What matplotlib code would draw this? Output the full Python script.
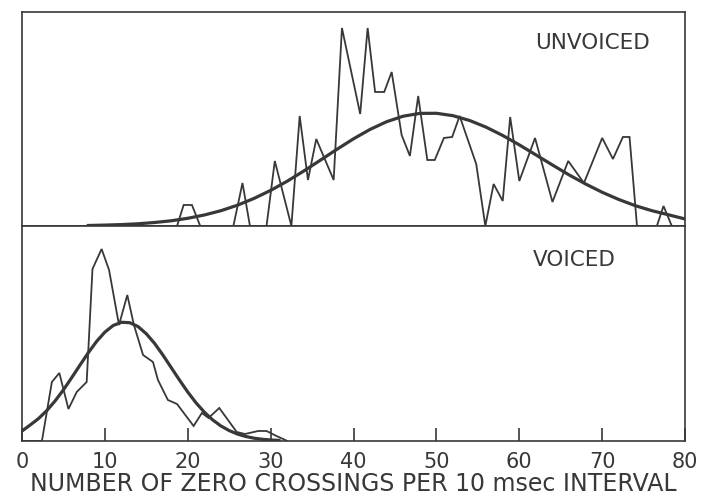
import matplotlib
matplotlib.use("Agg")
import matplotlib.pyplot as plt

# zero crossing histograms, heights in arbitrary units (panel height ~214)
unv_x = [0, 18.7, 19.5, 20.5, 21.5, 25.5, 26.6, 27.5, 29.5, 30.5, 32.5, 33.5, 34.5,
         35.5, 37.6, 38.6, 40.8, 41.7, 42.6, 43.7, 44.6, 45.8, 46.8, 47.8, 48.9,
         49.8, 50.9, 51.9, 52.8, 54.8, 55.9, 56.9, 58.0, 58.9, 60.0, 61.9, 64.0,
         65.9, 67.8, 70.0, 71.3, 72.5, 73.3, 74.2, 76.6, 77.4, 78.4, 80]
unv_y = [0, 0, 21, 21, 0, 0, 43, 0, 0, 65, 0, 110, 46,
         87, 46, 198, 112, 198, 134, 134, 154, 91, 70, 130, 66,
         66, 88, 89, 110, 62, 0, 42, 25, 109, 45, 88, 24,
         65, 43, 88, 67, 89, 89, 0, 0, 20, 0, 0]

unv_fit_x = [8, 10, 12, 14, 16, 18, 20, 22, 24, 26, 28, 30, 32, 34, 36, 38, 40, 42,
             44, 46, 48, 50, 52, 54, 56, 58, 60, 62, 64, 66, 68, 70, 72, 74, 76, 78, 80]
unv_fit_y = [0.5, 0.9, 1.4, 2.2, 3.5, 5.2, 7.7, 11.0, 15.3, 20.8, 27.6, 35.6, 44.8,
             55.0, 65.8, 76.7, 87.2, 96.6, 104.3, 109.8, 112.6, 112.7, 110.3, 105.5,
             98.8, 90.5, 81.1, 71.1, 61.0, 51.1, 42.0, 33.7, 26.5, 20.3, 15.3, 11.2, 7.0]

voi_x = [0, 2.4, 3.6, 4.5, 5.6, 6.6, 7.8, 8.5, 9.6, 10.5, 11.7, 12.7, 13.5, 14.6,
         15.8, 16.4, 17.6, 18.7, 20.7, 21.7, 22.5, 23.8, 25.9, 26.9, 28.5, 29.5,
         30.7, 31.5, 32.0]
voi_y = [0, 0, 59, 68, 32, 49, 59, 172, 192, 171, 116, 146, 116, 86,
         79, 61, 41, 37, 15, 28, 23, 33, 9, 7, 10, 10,
         5, 2, 0]

voi_fit_x = list(range(0, 32))
voi_fit_y = [10.0, 16.1, 22.5, 30.5, 40.2, 51.2, 63.4, 76.0, 88.3, 99.6, 108.9, 115.5,
             118.7, 118.3, 114.4, 107.2, 97.5, 85.9, 73.4, 60.9, 48.9, 38.1, 28.8,
             21.1, 15.0, 10.4, 6.9, 4.5, 2.8, 1.7, 1.0, 0.6]

ticks = [0, 10, 20, 30, 40, 50, 60, 70, 80]

ink = "#383838"
plt.rcParams["font.family"] = ["DejaVu Sans"]

fig = plt.figure(figsize=(7.04, 4.97), dpi=100)
ax1 = fig.add_axes([0.0313, 0.5453, 0.9418, 0.4306])
ax2 = fig.add_axes([0.0313, 0.1127, 0.9418, 0.4326])

for ax in (ax1, ax2):
    ax.set_xlim(0, 80)
    for s in ax.spines.values():
        s.set_color(ink)
        s.set_linewidth(1.2)
    ax.set_yticks([])

ax1.set_ylim(0, 214)
ax2.set_ylim(0, 215)

ax1.plot(unv_x, unv_y, color=ink, lw=1.3, solid_joinstyle="miter")
ax1.plot(unv_fit_x, unv_fit_y, color=ink, lw=2.3)
ax1.set_xticks([])
ax1.text(0.947, 0.857, "UNVOICED", transform=ax1.transAxes, ha="right", va="center",
         fontsize=15.5, color=ink)

ax2.plot(voi_x, voi_y, color=ink, lw=1.3, solid_joinstyle="miter")
ax2.plot(voi_fit_x, voi_fit_y, color=ink, lw=2.3)
ax2.text(0.895, 0.844, "VOICED", transform=ax2.transAxes, ha="right", va="center",
         fontsize=15.5, color=ink)

ax2.set_xticks(ticks)
ax2.set_xticklabels([str(t) for t in ticks])
ax2.tick_params(axis="x", direction="in", length=9.5, width=1.2, color=ink,
                labelsize=15, labelcolor=ink, pad=8)
ax2.set_xlabel("NUMBER OF ZERO CROSSINGS PER 10 msec INTERVAL", fontsize=17,
               color=ink, labelpad=0)

fig.savefig("out.png", dpi=100, facecolor="white")
